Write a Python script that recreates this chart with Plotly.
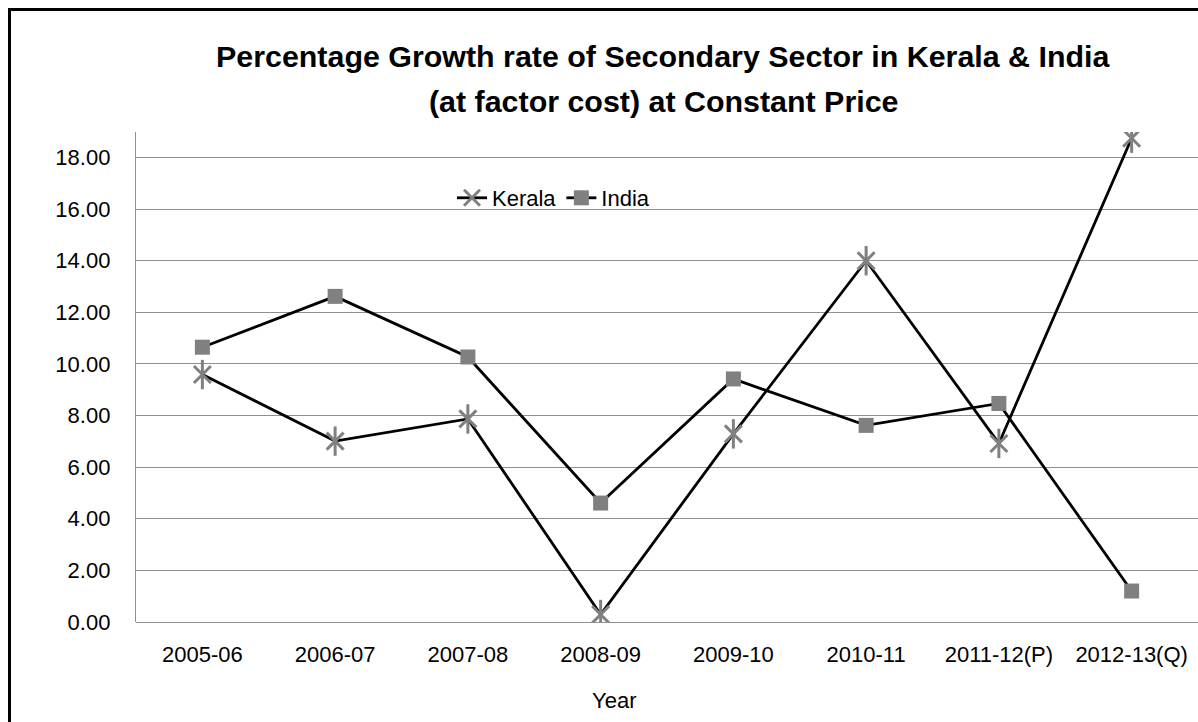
import plotly.graph_objects as go

years = ["2005-06", "2006-07", "2007-08", "2008-09", "2009-10", "2010-11", "2011-12(P)", "2012-13(Q)"]
kerala = [9.59, 7.01, 7.87, 0.29, 7.29, 14.00, 6.92, 18.75]
india = [10.65, 12.62, 10.27, 4.61, 9.42, 7.62, 8.47, 1.20]
y_ticks = [0, 2, 4, 6, 8, 10, 12, 14, 16, 18]
y_tick_labels = ["%.2f" % v for v in y_ticks]

FONT = "Liberation Sans, Arial, sans-serif"
GRAY = "#808080"
FS = 22

fig = go.Figure()
fig.add_trace(go.Scatter(
    x=years, y=kerala, name="Kerala", mode="lines+markers",
    line=dict(color="black", width=2.8),
    marker=dict(symbol="x-thin-open", size=17, color=GRAY, line=dict(color=GRAY, width=3)),
))
fig.add_trace(go.Scatter(
    x=years, y=kerala, name="Kerala", mode="markers", showlegend=False,
    marker=dict(symbol="line-ns-open", size=21, color=GRAY, line=dict(color=GRAY, width=3)),
))
fig.add_trace(go.Scatter(
    x=years, y=india, name="India", mode="lines+markers",
    line=dict(color="black", width=2.8),
    marker=dict(symbol="square", size=15, color=GRAY, line=dict(width=0)),
))

W, H = 1198, 722
L, R, T, B = 136, 0, 132, 100
pw, ph = W - L - R, H - T - B

def px_to_paper_x(px):
    return (px - L) / pw

def px_to_paper_y(py):
    return (H - B - py) / ph

fig.update_layout(
    width=W, height=H,
    margin=dict(l=L, r=R, t=T, b=B, pad=0, autoexpand=False),
    paper_bgcolor="white", plot_bgcolor="white",
    font=dict(family=FONT, size=FS, color="black"),
    showlegend=True,
    legend=dict(
        orientation="h", x=px_to_paper_x(452), y=px_to_paper_y(198),
        xanchor="left", yanchor="middle",
        bgcolor="rgba(0,0,0,0)", font=dict(size=FS, family=FONT),
        itemwidth=30, tracegroupgap=0,
    ),
    xaxis=dict(
        type="category", range=[-0.5, 7.5], automargin=False,
        showgrid=False, showline=False, zeroline=False,
        ticks="", tickangle=0, tickfont=dict(size=FS, family=FONT),
        ticklabelstandoff=17,
    ),
    yaxis=dict(
        range=[0, 18.99], tickvals=y_ticks, ticktext=y_tick_labels, automargin=False,
        showgrid=True, gridcolor="#8f8f8f", gridwidth=1.4,
        showline=True, linecolor="#8f8f8f", linewidth=1.4,
        zeroline=True, zerolinecolor="#8f8f8f", zerolinewidth=1.4,
        ticks="", ticklabelstandoff=20, tickfont=dict(size=FS, family=FONT),
    ),
    annotations=[
        dict(text="<b>Percentage Growth rate of Secondary Sector in Kerala & India</b>",
             xref="paper", yref="paper", x=px_to_paper_x(663), y=px_to_paper_y(56),
             xanchor="center", yanchor="middle", showarrow=False,
             font=dict(size=30.4, family=FONT, color="black")),
        dict(text="<b>(at factor cost) at Constant Price</b>",
             xref="paper", yref="paper", x=px_to_paper_x(663), y=px_to_paper_y(101),
             xanchor="center", yanchor="middle", showarrow=False,
             font=dict(size=30.4, family=FONT, color="black")),
        dict(text="Year",
             xref="paper", yref="paper", x=px_to_paper_x(614), y=px_to_paper_y(700),
             xanchor="center", yanchor="middle", showarrow=False,
             font=dict(size=FS, family=FONT, color="black")),
    ],
    shapes=[
        dict(type="rect", xref="paper", yref="paper",
             x0=px_to_paper_x(9.5), x1=px_to_paper_x(1300),
             y0=px_to_paper_y(900), y1=px_to_paper_y(9.5),
             line=dict(color="black", width=3), fillcolor="rgba(0,0,0,0)", layer="below"),
    ],
)

fig.write_html(
    "out.html",
    config={"displayModeBar": False},
    post_script="document.body.style.margin='0px';document.body.style.overflow='hidden';",
)
